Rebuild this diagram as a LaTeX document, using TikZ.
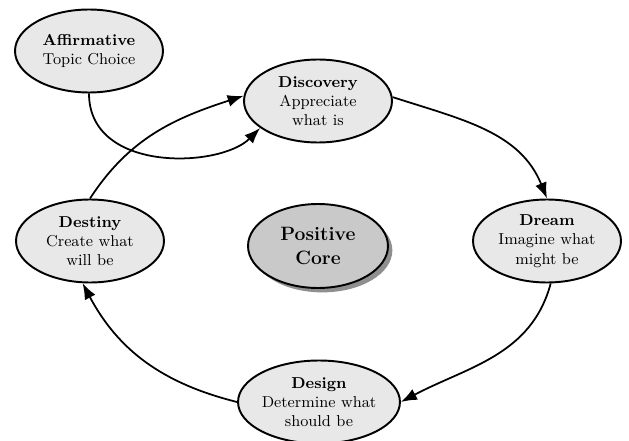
\documentclass[tikz,border=0pt]{standalone}
\usepackage{tikz}
\usetikzlibrary{shapes.geometric, arrows.meta, shadows}
\tikzset{
  phase/.style={ellipse, draw=black, line width=1.1pt, fill=gray!18,
                minimum width=2.96cm, minimum height=1.66cm, inner sep=0pt,
                align=center, font=\small},
  corenode/.style={ellipse, draw=black, line width=1.1pt, fill=gray!42,
                   minimum width=2.8cm, minimum height=1.68cm, inner sep=0pt,
                   align=center, font=\fontsize{11}{13.5}\selectfont\bfseries,
                   drop shadow={shadow xshift=2.5pt, shadow yshift=-2.5pt,
                                fill=black!55, opacity=0.8}},
  cycarrow/.style={-{Latex[length=3.2mm, width=2.4mm]}, line width=1pt},
}

\begin{document}
\begin{tikzpicture}[x=0.02cm, y=0.02cm]
\useasboundingbox (0,0) rectangle (629,440);

% ── 各阶段椭圆 ──────────────────────────────────────────────
\node[phase] (aff)   at (89,389)  {\textbf{Affirmative}\\Topic Choice};
\node[phase] (disc)  at (318,339) {\textbf{Discovery}\\Appreciate\\what is};
\node[phase] (dream) at (547,199) {\textbf{Dream}\\Imagine what\\might be};
\node[phase] (desg)  at (319,38)  {\textbf{Design}\\Determine what\\should be};
\node[phase] (dest)  at (90,199)  {\textbf{Destiny}\\Create what\\will be};

% ── 中心 ────────────────────────────────────────────────────
\node[corenode] (core) at (318,194) {Positive\\Core};

% ── 循环箭头 ────────────────────────────────────────────────
\draw[cycarrow] (aff.south) .. controls +(0,-80) and +(-40,-40) .. (disc.205);
\draw[cycarrow] (dest.north) to[out=57, in=198] (disc.176);
\draw[cycarrow] (disc.3) to[out=-18, in=112] (dream.north);
\draw[cycarrow] (dream.-85) to[out=-105, in=28] (desg.east);
\draw[cycarrow] (desg.west) to[out=166, in=-62] (dest.-100);

\end{tikzpicture}
\end{document}
